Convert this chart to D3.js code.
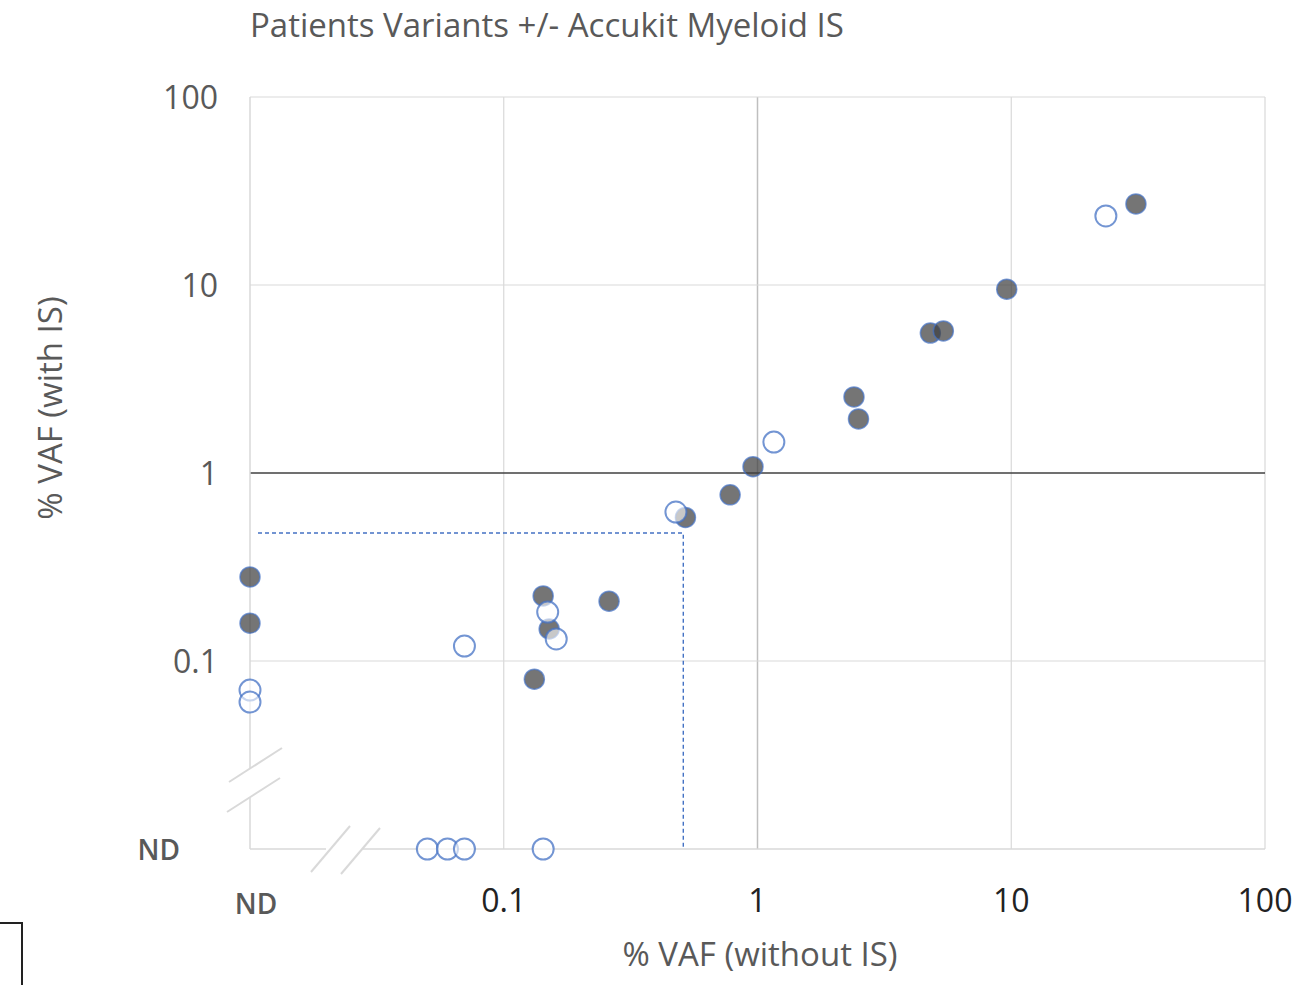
<!DOCTYPE html>
<html>
<head>
<meta charset="utf-8">
<script src="https://cdn.jsdelivr.net/npm/d3@7"></script>
<style>
  body { margin: 0; background: #fff; }
  svg { font-family: "Open Sans", "Noto Sans", sans-serif; }
</style>
</head>
<body>
<svg id="chart" width="1309" height="985"></svg>
<script>
// ND (not detected) is drawn at the bottom of the log axis
const ND = 0.01;

// filled points: variants seen both with and without IS
const filledX = [31, 9.6, 4.8, 5.4, 2.4, 2.5, 0.96, 0.78, 0.52, 0.26, 0.143, 0.151, 0.132, ND, ND];
const filledY = [27, 9.5, 5.55, 5.7, 2.54, 1.94, 1.08, 0.765, 0.58, 0.208, 0.222, 0.148, 0.080, 0.28, 0.159];

// open points
const openX = [23.6, 1.16, 0.477, 0.149, 0.161, 0.070, ND, ND, 0.050, 0.060, 0.070, 0.143];
const openY = [23.3, 1.46, 0.62, 0.182, 0.131, 0.120, 0.070, 0.0605, ND, ND, ND, ND];

const xTicks = [0.1, 1, 10, 100];
const yTicks = [0.1, 1, 10, 100];
const cutoffX = 0.51;
const cutoffY = 0.48;

const svg = d3.select('#chart');

const x = d3.scaleLog().domain([0.01, 100]).range([250, 1265]);
const y = d3.scaleLog().domain([0.01, 100]).range([849, 97]);

// grid
const grid = svg.append('g');
grid.selectAll('.vg').data(xTicks).join('line')
  .attr('x1', d => x(d)).attr('x2', d => x(d))
  .attr('y1', y(100)).attr('y2', y(0.01))
  .attr('stroke', d => d === 1 ? '#bfbfbf' : '#d9d9d9')
  .attr('stroke-width', d => d === 1 ? 1.5 : 1.2);
grid.selectAll('.hg').data(yTicks).join('line')
  .attr('x1', x(0.01)).attr('x2', x(100))
  .attr('y1', d => y(d)).attr('y2', d => y(d))
  .attr('stroke', d => d === 1 ? '#404040' : '#d9d9d9')
  .attr('stroke-width', d => d === 1 ? 1.5 : 1.2);

// axis lines with breaks
const axisCol = '#d9d9d9';
grid.append('line').attr('x1', x(0.01)).attr('x2', x(0.01))
  .attr('y1', y(100)).attr('y2', 768).attr('stroke', axisCol).attr('stroke-width', 1.5);
grid.append('line').attr('x1', x(0.01)).attr('x2', x(0.01))
  .attr('y1', 797).attr('y2', y(0.01)).attr('stroke', axisCol).attr('stroke-width', 1.5);
grid.append('line').attr('x1', x(0.01)).attr('x2', 326)
  .attr('y1', y(0.01)).attr('y2', y(0.01)).attr('stroke', axisCol).attr('stroke-width', 1.5);
grid.append('line').attr('x1', 363).attr('x2', x(100))
  .attr('y1', y(0.01)).attr('y2', y(0.01)).attr('stroke', axisCol).attr('stroke-width', 1.5);

const breaks = [
  [229, 782, 282, 748], [227, 812, 280, 778],
  [311, 872, 350, 826], [341, 874, 380, 828]
];
grid.selectAll('.brk').data(breaks).join('line')
  .attr('x1', d => d[0]).attr('y1', d => d[1])
  .attr('x2', d => d[2]).attr('y2', d => d[3])
  .attr('stroke', '#d9d9d9').attr('stroke-width', 2);

// dashed cutoff lines
svg.append('path')
  .attr('d', `M${x(0.01) + 8},${y(cutoffY)}H${x(cutoffX)}V${y(0.01)}`)
  .attr('fill', 'none').attr('stroke', '#4472c4')
  .attr('stroke-width', 1.4).attr('stroke-dasharray', '4,3');

// tick labels
svg.selectAll('.yl').data(yTicks).join('text')
  .attr('x', 218).attr('y', d => y(d) + 12)
  .attr('text-anchor', 'end').attr('font-size', 32).attr('fill', '#595959')
  .text(d => d3.format('~g')(d));
svg.append('text').attr('x', 180).attr('y', y(0.01) + 11)
  .attr('text-anchor', 'end').attr('font-size', 28).attr('font-weight', 600)
  .attr('fill', '#595959').text('ND');

svg.selectAll('.xl').data(xTicks).join('text')
  .attr('x', d => x(d)).attr('y', 912)
  .attr('text-anchor', 'middle').attr('font-size', 32).attr('fill', '#222')
  .text(d => d3.format('~g')(d));
svg.append('text').attr('x', x(0.01) + 6).attr('y', 914)
  .attr('text-anchor', 'middle').attr('font-size', 28).attr('font-weight', 600)
  .attr('fill', '#595959').text('ND');

// titles
svg.append('text').attr('x', 250).attr('y', 37)
  .attr('font-size', 33).attr('fill', '#595959')
  .text('Patients Variants +/- Accukit Myeloid IS');
svg.append('text').attr('x', 760).attr('y', 966)
  .attr('text-anchor', 'middle').attr('font-size', 33).attr('fill', '#595959')
  .text('% VAF (without IS)');
svg.append('text')
  .attr('transform', 'translate(62,408) rotate(-90)')
  .attr('text-anchor', 'middle').attr('font-size', 33).attr('fill', '#595959')
  .text('% VAF (with IS)');

// points
const filled = filledX.map((v, i) => ({ x: v, y: filledY[i] }));
const open = openX.map((v, i) => ({ x: v, y: openY[i] }));

svg.append('g').selectAll('circle').data(filled).join('circle')
  .attr('cx', d => x(d.x)).attr('cy', d => y(d.y)).attr('r', 10)
  .attr('fill', '#404040').attr('fill-opacity', 0.72)
  .attr('stroke', '#4472c4').attr('stroke-opacity', 0.7).attr('stroke-width', 1.5);

svg.append('g').selectAll('circle').data(open).join('circle')
  .attr('cx', d => x(d.x)).attr('cy', d => y(d.y)).attr('r', 10.5)
  .attr('fill', '#fff').attr('fill-opacity', 0.6)
  .attr('stroke', '#4472c4').attr('stroke-opacity', 0.75).attr('stroke-width', 2);

// corner box fragment
svg.append('path').attr('d', 'M0,923H22V985')
  .attr('fill', 'none').attr('stroke', '#222').attr('stroke-width', 2);
</script>
</body>
</html>
